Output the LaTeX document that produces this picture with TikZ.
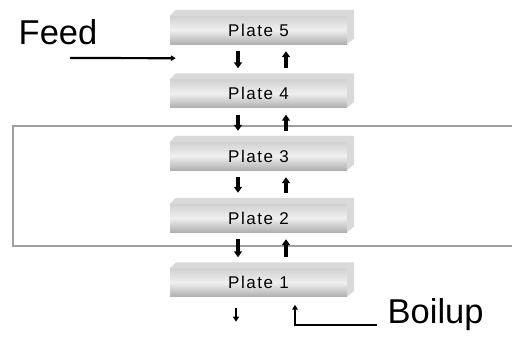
\documentclass[tikz,border=0pt]{standalone}
\usepackage{fontspec}
\setmainfont{Liberation Sans}
\usetikzlibrary{arrows.meta,calc}
\tikzset{
  plate/.style={rectangle, minimum width=177pt, minimum height=28pt, inner sep=0pt,
    top color=gray!36, bottom color=gray!62, middle color=gray!12,
    font=\fontsize{17}{17}\selectfont\addfontfeature{LetterSpace=9}},
  rim/.style={fill=gray!30},
  flow/.style={line width=3.2pt, -{Triangle[width=8pt,length=6pt]}},
  flowthin/.style={line width=2.2pt, -{Triangle[width=6pt,length=5pt]}},
  feedline/.style={line width=2.2pt, -{Triangle[width=5.5pt,length=5pt]}},
  boilline/.style={line width=1.6pt, -{Triangle[width=5.5pt,length=5pt]}},
  biglabel/.style={anchor=base west, inner sep=0pt, font=\fontsize{34.5}{35}\selectfont},
  section/.style={draw=gray!75, line width=1.5pt}
}
\begin{document}
\begin{tikzpicture}[x=1pt,y=-1pt]
  \useasboundingbox (0,0) rectangle (512,338);

  % section boundary around plates 2 and 3
  \draw[section] (520,126) -| (13,246) -- (520,246);

  % plates
  \node[plate] (p5) at (258.5,30)  {Plate 5};
  \node[plate] (p4) at (258.5,93.5) {Plate 4};
  \node[plate] (p3) at (258.5,156) {Plate 3};
  \node[plate] (p2) at (258.5,218) {Plate 2};
  \node[plate] (p1) at (258.5,282.5) {Plate 1};

  % raised rim along the top and right of each plate
  \foreach \p in {p5,p4,p3,p2,p1} {
    \fill[rim] (\p.north west) -- ++(6,-6) -- ($(\p.north east)+(7,-6)$)
      -- ($(\p.south east)+(7,-6)$) -- (\p.south east) -- (\p.north east) -- cycle;
  }

  % liquid down, vapour up between neighbouring plates
  \foreach \a/\b in {p5/p4,p4/p3,p3/p2,p2/p1} {
    \draw[flow] ($(\a.south)+(-20.5,7)$) -- ($(\b.north)+(-20.5,-11)$);
    \draw[flow] ($(\b.north)+(27.5,-11)$) -- ($(\a.south)+(27.5,7)$);
  }

  % bottoms product
  \coordinate (bottoms) at ($(p1.south)+(-22.5,25)$);
  \draw[flowthin] ($(p1.south)+(-22.5,11)$) -- (bottoms);

  % feed
  \node[biglabel] (feed) at (18.5,44) {Feed};
  \coordinate (feedstart) at (70,58);
  \coordinate (feedend) at ($(p5.south west)+(6,14)$);
  \draw[feedline] (feedstart) -- (feedend);

  % boilup
  \node[biglabel] (boil) at (387.5,323) {Boilup};
  \coordinate (boilstart) at ($(boil.base west)+(-10.5,2)$);
  \draw[boilline] (boilstart) -| ($(p1.south)+(36.5,8)$);
\end{tikzpicture}
\end{document}
